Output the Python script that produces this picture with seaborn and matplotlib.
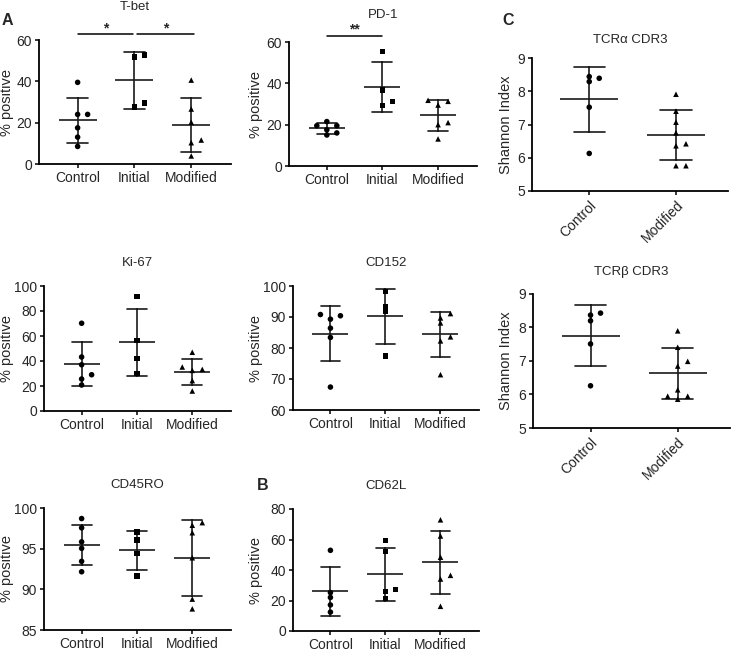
import matplotlib
matplotlib.use("Agg")
import numpy as np
import pandas as pd
import seaborn as sns
import matplotlib.pyplot as plt

# groups and their symbols
groups3 = ["Control", "Initial", "Modified"]
groups2 = ["Control", "Modified"]
markers = {"Control": "o", "Initial": "s", "Modified": "^"}

# A: % positive
tbet_control = [39.5, 24.0, 24.0, 17.5, 13.0, 8.5]
tbet_initial = [52.7, 51.9, 29.4, 27.7]
tbet_modified = [40.6, 26.6, 20.2, 11.6, 10.3, 3.9]

pd1_control = [21.5, 19.5, 19.5, 17.5, 16.0, 15.0]
pd1_initial = [55.5, 36.9, 31.3, 29.2]
pd1_modified = [31.8, 31.3, 29.5, 21.0, 20.0, 13.1]

ki67_control = [70.2, 43.2, 37.0, 29.0, 25.6, 20.8]
ki67_initial = [91.5, 56.5, 41.9, 29.9]
ki67_modified = [47.0, 35.2, 33.3, 32.5, 24.3, 16.0]

cd152_control = [90.8, 90.4, 89.3, 86.4, 83.4, 67.4]
cd152_initial = [98.2, 93.4, 91.8, 77.4]
cd152_modified = [91.1, 89.7, 88.1, 83.6, 82.3, 71.4]

cd45ro_control = [98.7, 97.56, 95.84, 95.04, 93.44, 92.16]
cd45ro_initial = [97.08, 96.04, 94.4, 91.64]
cd45ro_modified = [98.2, 97.88, 96.96, 93.88, 88.8, 87.6]

# B
cd62l_control = [52.9, 25.2, 22.0, 17.1, 12.4]
cd62l_initial = [59.3, 52.0, 27.1, 25.8, 21.3]
cd62l_modified = [72.9, 62.3, 48.4, 36.5, 34.1, 16.2]

# C: Shannon index
tcra_control = [8.44, 8.39, 8.29, 7.52, 6.13]
tcra_modified = [7.91, 7.40, 7.07, 6.75, 6.42, 6.36, 5.76, 5.76]
tcrb_control = [8.43, 8.37, 8.20, 7.51, 6.26]
tcrb_modified = [7.90, 7.41, 6.99, 6.85, 6.14, 5.95, 5.95, 5.86]

sns.set_style("ticks")
plt.rcParams["font.family"] = ["Liberation Sans", "DejaVu Sans"]

W, H = 734, 652
fig = plt.figure(figsize=(W / 100, H / 100), dpi=100)


def spread(pix, tol=4.8):
    # prism-like scatter: move a dot sideways when it would sit on another one
    ks = []
    for i, p in enumerate(pix):
        for k in (0, 1, -1, 2, -2, 3, -3):
            if all(ks[j] != k or abs(pix[j] - p) >= tol for j in range(i)):
                break
        ks.append(k)
    return ks


def panel(box, title, names, series, ylim, ystep, ylabel, label_x, title_pad,
          xlim=(-0.68, 2.7), rotate=False):
    l, t, r, b = box
    ax = fig.add_axes([l / W, 1 - b / H, (r - l) / W, (b - t) / H])
    xpx = (r - l) / (xlim[1] - xlim[0])
    ypx = (b - t) / (ylim[1] - ylim[0])

    rows = []
    for i, (name, vals) in enumerate(zip(names, series)):
        vals = np.sort(np.asarray(vals, dtype=float))
        for k, v in zip(spread(vals * ypx), vals):
            rows.append({"group": name, "pos": i, "x": i + k * 10 / xpx, "value": v})
    df = pd.DataFrame(rows)

    sns.pointplot(data=df, x="pos", y="value", orient="x", native_scale=True,
                  errorbar="sd", capsize=0.36, color="#1a1a1a",
                  marker="_", markersize=0.66 * xpx * 0.72, markeredgewidth=1.2,
                  linestyle="none", err_kws={"linewidth": 1.2}, ax=ax)
    sns.scatterplot(data=df, x="x", y="value", style="group", markers=markers,
                    color="black", s=16, linewidth=0, legend=False, ax=ax,
                    clip_on=False, zorder=4)

    ax.set_xlim(*xlim)
    ax.set_ylim(*ylim)
    ax.set_yticks(np.arange(ylim[0], ylim[1] + ystep / 2, ystep))
    ax.set_xticks(range(len(names)))
    if rotate:
        ax.set_xticklabels(names, rotation=45, ha="right", rotation_mode="anchor")
    else:
        ax.set_xticklabels(names)
    ax.set_xlabel("")
    ax.set_ylabel(ylabel, fontsize=10.5)
    ax.yaxis.set_label_coords((label_x - l) / (r - l), 0.5)
    ax.set_title(title, fontsize=9.5, pad=title_pad)
    sns.despine(ax=ax)
    for s in ("left", "bottom"):
        ax.spines[s].set_linewidth(1.3)
        ax.spines[s].set_color("black")
    ax.tick_params(labelsize=10, length=3, width=1.1, color="black", pad=2)
    return ax


def sig(ax, x0, x1, y, ytxt, stars):
    ax.plot([x0, x1], [y, y], color="black", lw=1.1, clip_on=False)
    ax.text((x0 + x1) / 2, ytxt, stars, ha="center", va="center", fontsize=10,
            fontweight="bold")


ax = panel((39, 40, 231, 164), "T-bet", groups3,
           [tbet_control, tbet_initial, tbet_modified], (0, 60), 20,
           "% positive", 14, 21.5)
sig(ax, 0, 0.98, 63.1, 65.4, "*")
sig(ax, 1.04, 2.05, 63.1, 65.4, "*")

ax = panel((289, 42, 477, 166), "PD-1", groups3,
           [pd1_control, pd1_initial, pd1_modified], (0, 60), 20,
           "% positive", 263, 17)
sig(ax, 0, 1, 62.8, 66.0, "**")

panel((44, 286, 231, 411), "Ki-67", groups3,
      [ki67_control, ki67_initial, ki67_modified], (0, 100), 20,
      "% positive", 14, 14.5)
panel((293, 286, 479, 410), "CD152", groups3,
      [cd152_control, cd152_initial, cd152_modified], (60, 100), 10,
      "% positive", 263, 14.5)
panel((44, 508, 231, 630), "CD45RO", groups3,
      [cd45ro_control, cd45ro_initial, cd45ro_modified], (85, 100), 5,
      "% positive", 14, 14.5)
panel((293, 509, 479, 631), "CD62L", groups3,
      [cd62l_control, cd62l_initial, cd62l_modified], (0, 80), 20,
      "% positive", 263, 14.5)

panel((532, 58, 728, 191), "TCRα CDR3", groups2,
      [tcra_control, tcra_modified], (5, 9), 1,
      "Shannon Index", 513, 11, xlim=(-0.66, 1.6), rotate=True)
panel((533, 294, 730, 428), "TCRβ CDR3", groups2,
      [tcrb_control, tcrb_modified], (5, 9), 1,
      "Shannon Index", 513, 14, xlim=(-0.66, 1.6), rotate=True)

for letter, x, y in (("A", 2, 25), ("B", 257, 490), ("C", 502, 25)):
    fig.text(x / W, 1 - y / H, letter, fontsize=11.5, fontweight="bold", va="baseline")

fig.savefig("out.png", dpi=100)
